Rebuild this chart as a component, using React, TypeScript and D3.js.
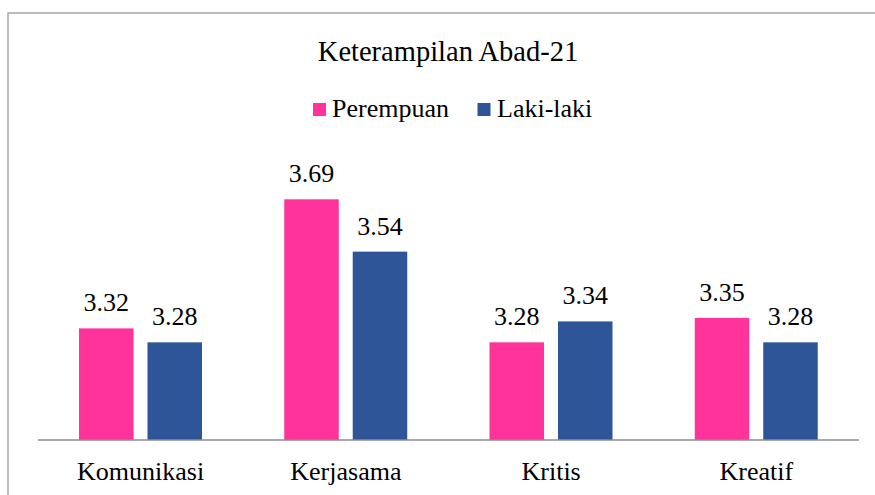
import React from "react";
import * as d3 from "d3";

const categories = ["Komunikasi", "Kerjasama", "Kritis", "Kreatif"];
const seriesNames = ["Perempuan", "Laki-laki"];
const perempuan = [3.32, 3.69, 3.28, 3.35];
const lakiLaki = [3.28, 3.54, 3.34, 3.28];
const colors = ["#FF3399", "#2E5597"];
const title = "Keterampilan Abad-21";

const W = 875;
const H = 495;
const FONT = '"Liberation Serif", "Times New Roman", Times, Tinos, "Nimbus Roman", "Nimbus Roman No9 L", "FreeSerif", "Noto Serif", "DejaVu Serif", serif';
const ts: React.CSSProperties = { fontFamily: FONT };

export default function App() {
  const x = d3.scaleBand<string>().domain(categories).range([38, 859]).paddingInner(0).paddingOuter(0);
  const inner = d3.scaleBand<string>().domain(seriesNames).range([41, 164]).paddingInner(0.204).paddingOuter(0);
  const y = d3.scaleLinear().domain([3, 3.8]).range([440, 440 - 0.8 * 348.8]);
  const series = [perempuan, lakiLaki];
  const fmt = d3.format(".2f");

  return (
    <svg width={W} height={H} style={{ position: "fixed", left: 0, top: 0, background: "#fff", fontFamily: FONT }}>
      <rect x={8} y={13} width={1000} height={1000} fill="#fff" stroke="#a6a6a6" strokeWidth={1.5} />
      <text x={448} y={61} textAnchor="middle" fontSize={28.5} fill="#000" style={ts}>{title}</text>
      <g>
        <rect x={313} y={103} width={13} height={13} fill={colors[0]} />
        <text x={332} y={117} fontSize={26} fill="#000" style={ts}>{seriesNames[0]}</text>
        <rect x={477.5} y={103} width={13} height={13} fill={colors[1]} />
        <text x={497} y={117} fontSize={26} fill="#000" style={ts}>{seriesNames[1]}</text>
      </g>
      {categories.map((c, i) => (
        <g key={c}>
          {series.map((vals, s) => {
            const bx = (x(c) as number) + (inner(seriesNames[s]) as number);
            const bw = inner.bandwidth();
            const top = y(vals[i]);
            return (
              <g key={s}>
                <rect x={bx} y={top} width={bw} height={y(3) - top} fill={colors[s]} />
                <text x={bx + bw / 2} y={top - 17} textAnchor="middle" fontSize={26} fill="#000" style={ts}>
                  {fmt(vals[i])}
                </text>
              </g>
            );
          })}
          <text x={(x(c) as number) + x.bandwidth() / 2} y={480} textAnchor="middle" fontSize={26} fill="#000" style={ts}>
            {c}
          </text>
        </g>
      ))}
      <line x1={38} x2={859} y1={y(3)} y2={y(3)} stroke="#8c8c8c" strokeWidth={1.5} />
    </svg>
  );
}
